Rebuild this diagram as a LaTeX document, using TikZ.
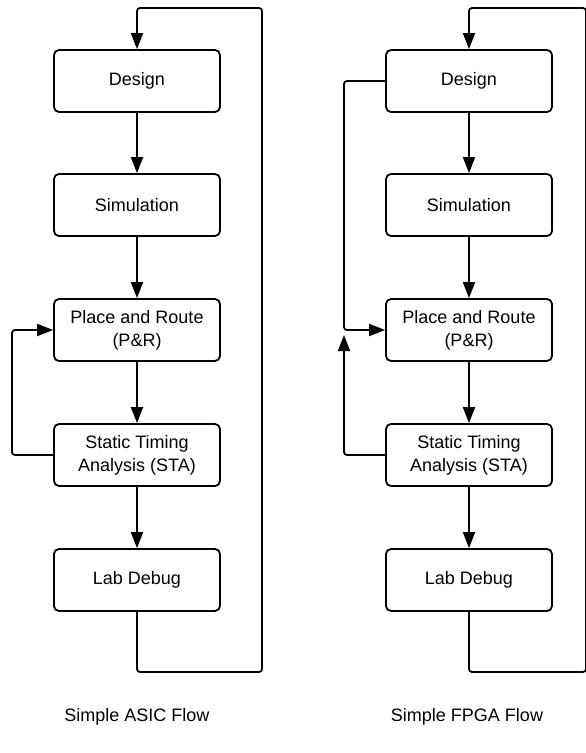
\documentclass[tikz,border=0pt]{standalone}
\usepackage{fontspec}
\setmainfont{Liberation Sans}
\usetikzlibrary{arrows.meta}
\begin{document}
\begin{tikzpicture}[x=1pt,y=-1pt,
  stage/.style={draw, line width=1.8pt, rounded corners=5pt, minimum width=166pt,
    minimum height=62pt, align=center, inner sep=0pt,
    font=\fontsize{18}{23}\selectfont},
  flow/.style={line width=1.8pt, rounded corners=3pt, -{Triangle[length=16pt,width=12pt]}},
  caption/.style={font=\fontsize{18}{23}\selectfont}]
\useasboundingbox (0,0) rectangle (586,753);

% ASIC column
\node[stage] (aD) at (137,81)  {Design};
\node[stage] (aS) at (137,205) {Simulation};
\node[stage] (aP) at (137,330) {Place and Route\\(P\&R)};
\node[stage] (aT) at (137,455) {Static Timing\\Analysis (STA)};
\node[stage] (aL) at (137,580) {Lab Debug};

% FPGA column
\node[stage] (bD) at (469,81)  {Design};
\node[stage] (bS) at (469,205) {Simulation};
\node[stage] (bP) at (469,330) {Place and Route\\(P\&R)};
\node[stage] (bT) at (469,455) {Static Timing\\Analysis (STA)};
\node[stage] (bL) at (469,580) {Lab Debug};

% straight-through steps
\draw[flow] (aD) -- (aS);
\draw[flow] (aS) -- (aP);
\draw[flow] (aP) -- (aT);
\draw[flow] (aT) -- (aL);
\draw[flow] (bD) -- (bS);
\draw[flow] (bS) -- (bP);
\draw[flow] (bP) -- (bT);
\draw[flow] (bT) -- (bL);

% outer loops back to design
\coordinate (aBR) at (262,672);
\coordinate (aTR) at (262,8);
\draw[flow] (aL.south) |- (aBR) -- (aTR) -| (aD.north);

\coordinate (bBR) at (586,672);
\coordinate (bTR) at (586,8);
\draw[flow] (bL.south) |- (bBR) -- (bTR) -| (bD.north);

% timing feedback (ASIC)
\coordinate (aFb) at (12,455);
\draw[flow] (aT.west) -- (aFb) |- (aP.west);

% design and timing feedback (FPGA)
\coordinate (bFd) at (344,81);
\coordinate (bFt) at (344,455);
\coordinate (bMeet) at (344,335);
\draw[flow] (bD.west) -- (bFd) |- (bP.west);
\draw[flow] (bT.west) -- (bFt) -- (bMeet);

% captions
\node[caption] (aCap) at (137,717) {Simple ASIC Flow};
\node[caption] (bCap) at (467,717) {Simple FPGA Flow};
\end{tikzpicture}
\end{document}
